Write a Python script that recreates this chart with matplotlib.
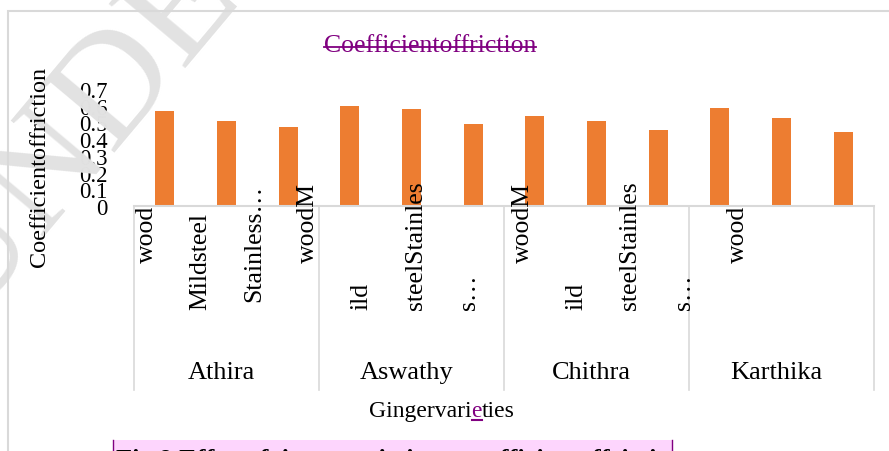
import numpy as np
import matplotlib
matplotlib.use("Agg")
import matplotlib.pyplot as plt
import matplotlib.transforms as mtransforms
from matplotlib.lines import Line2D
from matplotlib.patches import Rectangle

# data
varieties = ["Athira", "Aswathy", "Chithra", "Karthika"]
surfaces = ["wood", "Mild steel", "Stainless steel"]
athira = [0.57, 0.51, 0.475]
aswathy = [0.60, 0.58, 0.49]
chithra = [0.54, 0.51, 0.455]
karthika = [0.585, 0.525, 0.445]
# tick labels exactly as they were (badly) wrapped in the source
tick_labels = ["wood", "Mildsteel", "Stainless\u2026", "woodM", "ild", "steelStainles",
               "s\u2026", "woodM", "ild", "steelStainles", "s\u2026", "wood"]
yticks = [0, 0.1, 0.2, 0.3, 0.4, 0.5, 0.6, 0.7]

W, H = 889, 452
serif = "Liberation Serif"
plt.rcParams["font.family"] = serif

fig = plt.figure(figsize=(W / 100, H / 100), dpi=100)

def fx(x):
    return x / W

def fy(y):
    return 1 - y / H

# watermark
fig.text(fx(-30), fy(325), "UNDER PEER REVIEW", fontsize=110, color="#e2e2e2",
         rotation=50, rotation_mode="anchor", ha="left", va="baseline", zorder=0)

# outer frame of the chart area
fig.add_artist(Rectangle((fx(8), fy(470)), fx(900), fy(12) - fy(470), fill=False,
                         edgecolor="#d9d9d9", lw=1.5, transform=fig.transFigure))

ax = fig.add_axes([fx(134), fy(207), fx(874) - fx(134), fy(90) - fy(207)])
ax.patch.set_alpha(0)
values = athira + aswathy + chithra + karthika
xs = np.arange(len(values))
ax.bar(xs, values, width=0.31, color="#ED7D31", zorder=2)
ax.set_xlim(-0.5, len(values) - 0.5)
ax.set_ylim(0, 0.7)
ax.set_yticks(yticks)
ax.set_yticklabels(["0"] + ["%.1f" % v for v in yticks[1:]], fontsize=16.5)
ax.tick_params(axis="y", length=0, pad=19)
ax.set_xticks([])
for s in ["top", "right", "left"]:
    ax.spines[s].set_visible(False)
ax.spines["bottom"].set_color("#d9d9d9")
ax.spines["bottom"].set_linewidth(1.5)

trans = mtransforms.blended_transform_factory(ax.transData, ax.transAxes)
axh = 207 - 90
# group separators
for k in range(len(varieties) + 1):
    xb = 3 * k - 0.5
    ax.add_line(Line2D([xb, xb], [0, -(391 - 207) / axh], transform=trans,
                       color="#d9d9d9", lw=1.2, clip_on=False))

# category labels (rotated, uneven like the source)
label_bottom = [263, 310, 302, 263, 310, 310, 310, 263, 310, 310, 310, 263]
for i, lab in enumerate(tick_labels):
    xl = -0.29 + 0.871 * i
    ax.text(xl, -(label_bottom[i] - 207) / axh, lab, transform=trans, fontsize=18.5,
            rotation=90, rotation_mode="anchor", ha="left", va="center", clip_on=False)

for g, name in enumerate(varieties):
    ax.text(3 * g + 1 - 0.08, -(373 - 207) / axh, name, transform=trans, fontsize=19,
            ha="center", va="center", clip_on=False)

# axis titles
fig.text(fx(40), fy(167), "Coefficientoffriction", fontsize=17.5, rotation=90,
         ha="center", va="center")

fig.canvas.draw()
r = fig.canvas.get_renderer()

title = fig.text(fx(430), fy(46), "Coefficientoffriction", fontsize=18.5,
                 color="#800080", ha="center", va="center")
bb = title.get_window_extent(r)
ymid = bb.y0 + bb.height * 0.42
fig.add_artist(Line2D([bb.x0 / W, bb.x1 / W], [ymid / H, ymid / H],
                      color="#800080", lw=1.3, transform=fig.transFigure))

# x label in three pieces, purple underlined "e"
parts = [("Gingervari", "black"), ("e", "#800080"), ("ties", "black")]
widths = []
for txt, c in parts:
    t = fig.text(0, 0, txt, fontsize=17)
    widths.append(t.get_window_extent(r).width)
    t.remove()
x0 = 442 - sum(widths) / 2
for (txt, c), w in zip(parts, widths):
    t = fig.text(fx(x0), fy(412), txt, fontsize=17, color=c, ha="left", va="center")
    if txt == "e":
        b = t.get_window_extent(r)
        fig.add_artist(Line2D([b.x0 / W, b.x1 / W], [fy(421), fy(421)],
                              color="#800080", lw=1.5, transform=fig.transFigure))
    x0 += w

# caption box, cut off by the image bottom
fig.add_artist(Rectangle((fx(113), fy(470)), fx(672) - fx(113), fy(441) - fy(470),
                         facecolor="#fdd5fd", edgecolor="none", transform=fig.transFigure))
for xe in [113, 672]:
    fig.add_artist(Line2D([fx(xe), fx(xe)], [fy(441), fy(470)], color="#800080",
                          lw=1, transform=fig.transFigure))
fig.text(fx(116), fy(467), "Fig.9 Effectofgingervarietiesoncoefficientoffriction",
         fontsize=19, fontweight="bold", ha="left", va="baseline")

fig.savefig("out.png", dpi=100)
